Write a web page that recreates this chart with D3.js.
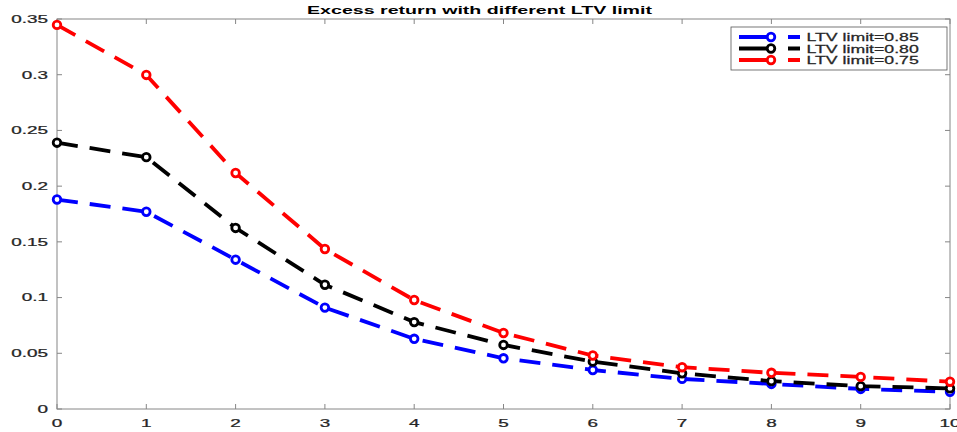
<!DOCTYPE html>
<html>
<head>
<meta charset="utf-8">
<script src="https://cdn.jsdelivr.net/npm/d3@7"></script>
<style>
  html, body { margin: 0; padding: 0; background: #fff; }
  svg { display: block; }
  text { font-family: "Liberation Sans", Arial, Helvetica, sans-serif; }
</style>
</head>
<body>
<svg id="chart" width="957" height="432"></svg>
<script>
// Horizon (periods) and excess return for each LTV limit
const steps = [0, 1, 2, 3, 4, 5, 6, 7, 8, 9, 10];
const ltv085 = [0.188, 0.177, 0.134, 0.091, 0.063, 0.0455, 0.035, 0.027, 0.0225, 0.018, 0.0155];
const ltv080 = [0.239, 0.226, 0.1625, 0.1115, 0.078, 0.0575, 0.0425, 0.032, 0.025, 0.0205, 0.0185];
const ltv075 = [0.3447, 0.2998, 0.2118, 0.1436, 0.0978, 0.0682, 0.048, 0.0375, 0.0325, 0.0288, 0.0245];
const seriesNames = ["LTV limit=0.85", "LTV limit=0.80", "LTV limit=0.75"];
const seriesColors = ["#0000ff", "#000000", "#ff0000"];
const xTicks = [0, 1, 2, 3, 4, 5, 6, 7, 8, 9, 10];
const yTicks = [0, 0.05, 0.1, 0.15, 0.2, 0.25, 0.3, 0.35];
const titleText = "Excess return with different LTV limit";

(function () {
const series = [ltv085, ltv080, ltv075].map((vals, i) => ({
  name: seriesNames[i], color: seriesColors[i],
  points: vals.map((v, j) => ({ x: steps[j], y: v }))
}));

const svg = d3.select("#chart");
const mLeft = 57, mRight = 950, mTop = 19, mBottom = 409;
const x = d3.scaleLinear().domain([0, 10]).range([mLeft, mRight]);
const y = d3.scaleLinear().domain([0, 0.35]).range([mBottom, mTop]);

const axisColor = "#868686";
const labelColor = "#262626";
const sx = 1.75; // wide glyphs

// Axes box
svg.append("rect")
  .attr("x", mLeft).attr("y", mTop)
  .attr("width", mRight - mLeft).attr("height", mBottom - mTop)
  .attr("fill", "none").attr("stroke", axisColor).attr("stroke-width", 1);

// Inward ticks on all four sides
const tk = 5;
const tickG = svg.append("g").attr("stroke", axisColor).attr("stroke-width", 1);
xTicks.forEach(t => {
  tickG.append("line").attr("x1", x(t)).attr("x2", x(t)).attr("y1", mBottom).attr("y2", mBottom - tk);
  tickG.append("line").attr("x1", x(t)).attr("x2", x(t)).attr("y1", mTop).attr("y2", mTop + tk);
});
yTicks.forEach(t => {
  tickG.append("line").attr("x1", mLeft).attr("x2", mLeft + tk).attr("y1", y(t)).attr("y2", y(t));
  tickG.append("line").attr("x1", mRight).attr("x2", mRight - tk).attr("y1", y(t)).attr("y2", y(t));
});

function wideText(g, tx, ty, str, anchor, size, scale) {
  g.append("g").attr("transform", `translate(${tx},${ty}) scale(${scale},1)`)
    .append("text")
    .attr("text-anchor", anchor)
    .attr("font-size", size)
    .attr("fill", labelColor)
    .attr("stroke", labelColor)
    .attr("stroke-width", 0.25)
    .text(str);
}

const fmt = v => String(+v.toFixed(2));
const labels = svg.append("g");
xTicks.forEach(t => wideText(labels, x(t), 426.5, fmt(t), "middle", 10.8, sx));
yTicks.forEach(t => wideText(labels, 48, y(t) + 3.9, fmt(t), "end", 10.8, sx));

// Title
svg.append("text")
  .attr("x", 307).attr("y", 14)
  .attr("font-size", 11).attr("font-weight", "bold")
  .attr("fill", "#000")
  .attr("textLength", 345).attr("lengthAdjust", "spacingAndGlyphs")
  .text(titleText);

// Dashed series lines with circle markers
const line = d3.line().x(d => x(d.x)).y(d => y(d.y));
series.forEach(s => {
  svg.append("path")
    .datum(s.points)
    .attr("d", line)
    .attr("fill", "none")
    .attr("stroke", s.color)
    .attr("stroke-width", 3.8)
    .attr("stroke-dasharray", "21,12");
});
series.forEach(s => {
  svg.append("g").selectAll("circle")
    .data(s.points)
    .join("circle")
    .attr("cx", d => x(d.x)).attr("cy", d => y(d.y))
    .attr("r", 3.8)
    .attr("fill", "#fff")
    .attr("stroke", s.color)
    .attr("stroke-width", 2.8);
});

// Legend
const lg = svg.append("g");
lg.append("rect")
  .attr("x", 731).attr("y", 27).attr("width", 216).attr("height", 43)
  .attr("fill", "#fff").attr("stroke", "#555").attr("stroke-width", 0.8);
series.forEach((s, i) => {
  const cy = 37 + i * 11.5;
  lg.append("line")
    .attr("x1", 739).attr("x2", 800).attr("y1", cy).attr("y2", cy)
    .attr("stroke", s.color).attr("stroke-width", 3.8)
    .attr("stroke-dasharray", "28,21,12");
  lg.append("circle")
    .attr("cx", 771).attr("cy", cy).attr("r", 3.8)
    .attr("fill", "#fff").attr("stroke", s.color).attr("stroke-width", 2.8);
  wideText(lg, 806.5, cy + 4, s.name, "start", 10.8, 1.64);
});
})();
</script>
</body>
</html>
